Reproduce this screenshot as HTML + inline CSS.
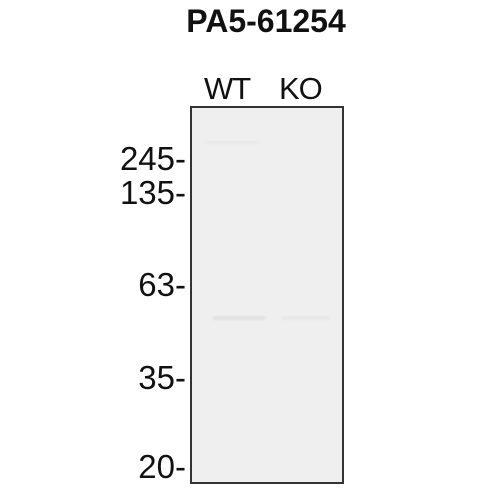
<!DOCTYPE html>
<html><head><meta charset="utf-8"><style>
body{margin:0;width:500px;height:500px;background:#fff;position:relative;overflow:hidden;font-family:"Liberation Sans",Arial,sans-serif;color:#111}
.t{position:absolute;white-space:nowrap;line-height:1}
</style></head><body>
<div class="t" style="left:176px;top:5px;font-size:32px;font-weight:bold;width:180px;text-align:center">PA5-61254</div>
<div class="t" style="left:204px;top:73px;font-size:31px;letter-spacing:-1px">WT</div>
<div class="t" style="left:279px;top:73px;font-size:31px;letter-spacing:-1px">KO</div>
<svg width="500" height="500" style="position:absolute;left:0;top:0">
<defs><filter id="b"><feGaussianBlur stdDeviation="1.5"/></filter></defs>
<rect x="191" y="107" width="152" height="376" fill="#efefef" stroke="#333" stroke-width="2"/>
<rect x="213" y="316" width="52" height="4" fill="#dddddd" filter="url(#b)"/>
<rect x="282" y="316" width="48" height="4" fill="#e5e5e5" filter="url(#b)"/>
<rect x="205" y="141" width="55" height="3" fill="#e6e6e6" filter="url(#b)"/>
</svg>
<div id="ladder"></div>
<script>
var markers=["245","135","63","35","20"];
var markerY=[159,193,285,378,467];
var lad=document.getElementById('ladder');
for(var i=0;i<markers.length;i++){
 var d=document.createElement('div');
 d.className='t';
 
 
 d.style.right=(500-186)+'px';
 d.style.top=(markerY[i]-17)+'px';
 d.style.fontSize='33px';
 d.textContent=markers[i]+'-';
 lad.appendChild(d);
}
</script>
</body></html>
